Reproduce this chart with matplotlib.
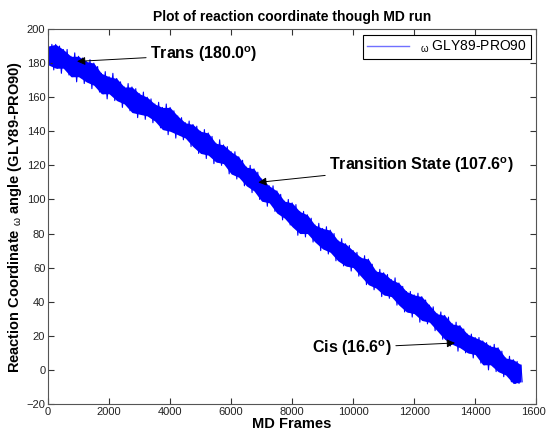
import numpy as np
import matplotlib
matplotlib.use("Agg")
import matplotlib.pyplot as plt

plt.rcParams["font.family"] = ["Liberation Sans", "DejaVu Sans"]
plt.rcParams["mathtext.fontset"] = "custom"
plt.rcParams["mathtext.rm"] = "Liberation Sans"
plt.rcParams["mathtext.it"] = "Liberation Sans"
plt.rcParams["mathtext.bf"] = "Liberation Sans:bold"

# envelope of the omega trace, every 250 frames
frames = np.arange(0, 15501, 250)
omega_hi = [190, 191, 188, 184, 184, 181, 180, 174, 172, 171, 166, 166, 162, 160, 156, 154,
            154, 149, 145, 144, 140, 139, 133, 132, 128, 125, 119, 118, 112, 108, 105, 99,
            98, 93, 91, 85, 83, 82, 76, 74, 70, 66, 65, 58, 57, 53, 51, 46,
            44, 43, 38, 33, 32, 27, 26, 21, 19, 17, 14, 13, 7, 6, 3]
omega_lo = [179, 177, 177, 172, 172, 169, 167, 162, 162, 158, 156, 151, 150, 149, 146, 141,
            140, 138, 136, 131, 127, 126, 122, 121, 115, 113, 108, 105, 99, 98, 92, 89,
            84, 80, 80, 75, 71, 69, 64, 61, 60, 55, 50, 48, 44, 43, 38, 34,
            33, 29, 28, 23, 18, 15, 13, 10, 9, 3, 3, -1, -3, -8, -7]
# spike tips between the 250-frame samples
spike_hi = [191, 190, 188, 186, 183, 182, 178, 175, 174, 169, 168, 165, 163, 159, 157, 156,
            152, 148, 146, 143, 141, 137, 135, 131, 128, 123, 120, 116, 111, 108, 103, 100,
            97, 93, 89, 86, 84, 80, 77, 73, 69, 67, 62, 59, 56, 54, 49, 46,
            45, 41, 37, 34, 31, 28, 24, 21, 19, 16, 15, 11, 8, 5]
spike_lo = [176, 174, 173, 169, 168, 165, 163, 159, 158, 154, 152, 148, 147, 145, 142, 138,
            136, 135, 131, 127, 124, 121, 120, 115, 112, 108, 104, 100, 96, 93, 88, 85,
            79, 78, 75, 70, 68, 64, 61, 58, 55, 50, 47, 43, 42, 38, 34, 31,
            28, 27, 23, 18, 14, 11, 10, 7, 4, 0, -1, -4, -7, -8]

# annotated states: (label, frame, angle, text frame, text angle)
states = [
    (r"Trans (180.0$^\mathbf{o}$)", 950, 181, 3350, 185),
    (r"Transition State (107.6$^\mathbf{o}$)", 6890, 110, 9220, 120),
    (r"Cis (16.6$^\mathbf{o}$)", 13340, 15.8, 8650, 13),
]

fig = plt.figure(figsize=(5.46, 4.33), dpi=100)
ax = fig.add_axes([0.088, 0.067, 0.894, 0.866])

# zigzag through envelope and spike tips so the band looks like a dense trace
zx, zy = [], []
for i in range(len(frames) - 1):
    f = frames[i]
    zx += [f, f + 62, f + 125, f + 187]
    zy += [omega_hi[i], omega_lo[i], spike_hi[i], spike_lo[i]]
zx += [frames[-1], frames[-1] + 40]
zy += [omega_hi[-1], omega_lo[-1]]

ax.fill_between(frames, omega_lo, omega_hi, color="#0000ff", lw=0)
ax.plot(zx, zy, color="#0000ff", lw=0.8)
ax.plot([], [], color="#7070ff", lw=1.0, label=r"$_\mathrm{\omega}$ GLY89-PRO90")

for label, fx, fy, tx, ty in states:
    ax.annotate(label, xy=(fx, fy), xytext=(tx, ty), fontsize=11.5, fontweight="bold",
                ha="left", va="center",
                arrowprops=dict(arrowstyle="-|>", color="black", lw=0.7,
                                mutation_scale=12, shrinkA=1, shrinkB=0))

ax.set_xlim(0, 16000)
ax.set_ylim(-20, 200)
ax.set_xticks(np.arange(0, 16001, 2000))
ax.set_yticks(np.arange(-20, 201, 20))
ax.tick_params(direction="in", top=True, right=True, labelsize=8, length=4, pad=2,
               color="#333333", labelcolor="#222222")
for s in ax.spines.values():
    s.set_color("#555555")

ax.set_title("Plot of reaction coordinate though MD run", fontsize=10, fontweight="bold")
ax.set_xlabel("MD Frames", fontsize=10.5, fontweight="bold", labelpad=0)
ax.set_ylabel(r"Reaction Coordinate $_\mathrm{\omega}$ angle (GLY89-PRO90)", fontsize=10.5,
              fontweight="bold", labelpad=2)

leg = ax.legend(loc="upper right", fontsize=10, fancybox=False, framealpha=1,
                edgecolor="black", handlelength=3, borderaxespad=0.4,
                borderpad=0.3)
leg.get_frame().set_linewidth(0.8)

fig.savefig("out.png", dpi=100)
